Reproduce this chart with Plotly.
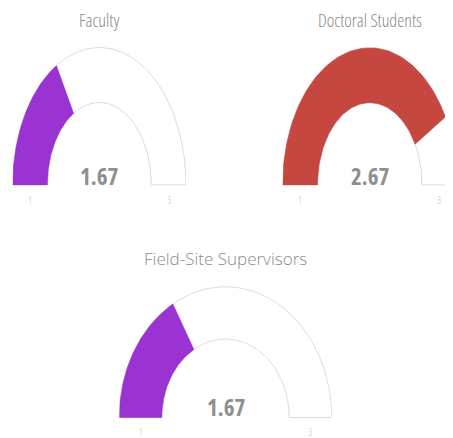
import numpy as np
import plotly.graph_objects as go

titles = ["Faculty", "Doctoral Students", "Field-Site Supervisors"]
values = [1.67, 2.67, 1.67]
colors = ["#9b32d2", "#c5473f", "#9b32d2"]
gauge_min = 1
gauge_max = 3

W, H = 453, 438
PAD = 8  # default body margin of the html page
INNER = 0.6
FONT = "Open Sans"

# gauge bounding boxes in window pixels: left, right, top, bottom
boxes = [(12.7, 186.0, 46.7, 185.7), (282.7, 456.8, 47.0, 185.7), (119.3, 331.7, 286.0, 418.3)]
title_y = [20, 20, 258]
value_y = [176, 176, 407]
tick_y = [200, 200, 432]
title_style = [(18, "75%"), (18, "75%"), (17, "100%")]
value_style = [(23, "75%"), (23, "75%"), (23, "80%")]


def px(x):
    return (x - PAD) / W


def py(y):
    return 1 - (y - PAD) / H


def band(frac_from, frac_to, n=90):
    a = np.pi * (1 - np.linspace(frac_from, frac_to, n))
    xs = np.concatenate([np.cos(a), INNER * np.cos(a[::-1]), [np.cos(a[0])]])
    ys = np.concatenate([np.sin(a), INNER * np.sin(a[::-1]), [np.sin(a[0])]])
    return xs, ys


def label(text, st, weight=None):
    w = f"font-weight:{weight};" if weight else ""
    return f'<span style="font-stretch:{st};{w}">{text}</span>'


fig = go.Figure()

for i, (t, v, c, b) in enumerate(zip(titles, values, colors, boxes)):
    key = "" if i == 0 else str(i + 1)
    xa, ya = "x" + key, "y" + key
    frac = (v - gauge_min) / (gauge_max - gauge_min)

    bx, by = band(0, 1)
    fig.add_trace(go.Scatter(x=bx, y=by, mode="lines", fill="toself", fillcolor="white",
                             line=dict(color="#dcdcdc", width=1), hoverinfo="skip",
                             xaxis=xa, yaxis=ya, showlegend=False))
    vx, vy = band(0, frac)
    fig.add_trace(go.Scatter(x=vx, y=vy, mode="lines", fill="toself", fillcolor=c,
                             line=dict(color=c, width=0.5), hoverinfo="skip",
                             xaxis=xa, yaxis=ya, showlegend=False))

    fig.update_layout(**{
        "xaxis" + key: dict(domain=[px(b[0]), min(px(b[1]), 1)],
                            range=[-1, -1 + 2 * (min(b[1] - PAD, W) - (b[0] - PAD)) / (b[1] - b[0])],
                            visible=False, fixedrange=True, anchor=ya),
        "yaxis" + key: dict(domain=[py(b[3]), py(b[2])], range=[-0.006, 1.006],
                            visible=False, fixedrange=True, anchor=xa),
    })

    cx = (b[0] + b[1]) / 2
    rx = (b[1] - b[0]) / 2
    fig.add_annotation(x=px(cx), y=py(title_y[i]), xref="paper", yref="paper",
                       text=label(t, title_style[i][1], 300), showarrow=False,
                       xanchor="center", yanchor="middle",
                       font=dict(family=FONT, size=title_style[i][0], color="#8a8a8a"))
    fig.add_annotation(x=px(cx), y=py(value_y[i]), xref="paper", yref="paper",
                       text=label(f"<b>{v:.2f}</b>", value_style[i][1]), showarrow=False,
                       xanchor="center", yanchor="middle",
                       font=dict(family=FONT, size=value_style[i][0], color="#8f8f8f"))
    for tv, side in [(gauge_min, -1), (gauge_max, 1)]:
        fig.add_annotation(x=px(cx + side * rx * (1 + INNER) / 2), y=py(tick_y[i]),
                           xref="paper", yref="paper", text=label(str(tv), "75%", 300),
                           showarrow=False, xanchor="center", yanchor="middle",
                           font=dict(family=FONT, size=10, color="#c8c8c8"))

fig.update_layout(width=W, height=H, margin=dict(l=0, r=0, t=0, b=0),
                  paper_bgcolor="white", plot_bgcolor="white")

fig.write_html("out.html")
